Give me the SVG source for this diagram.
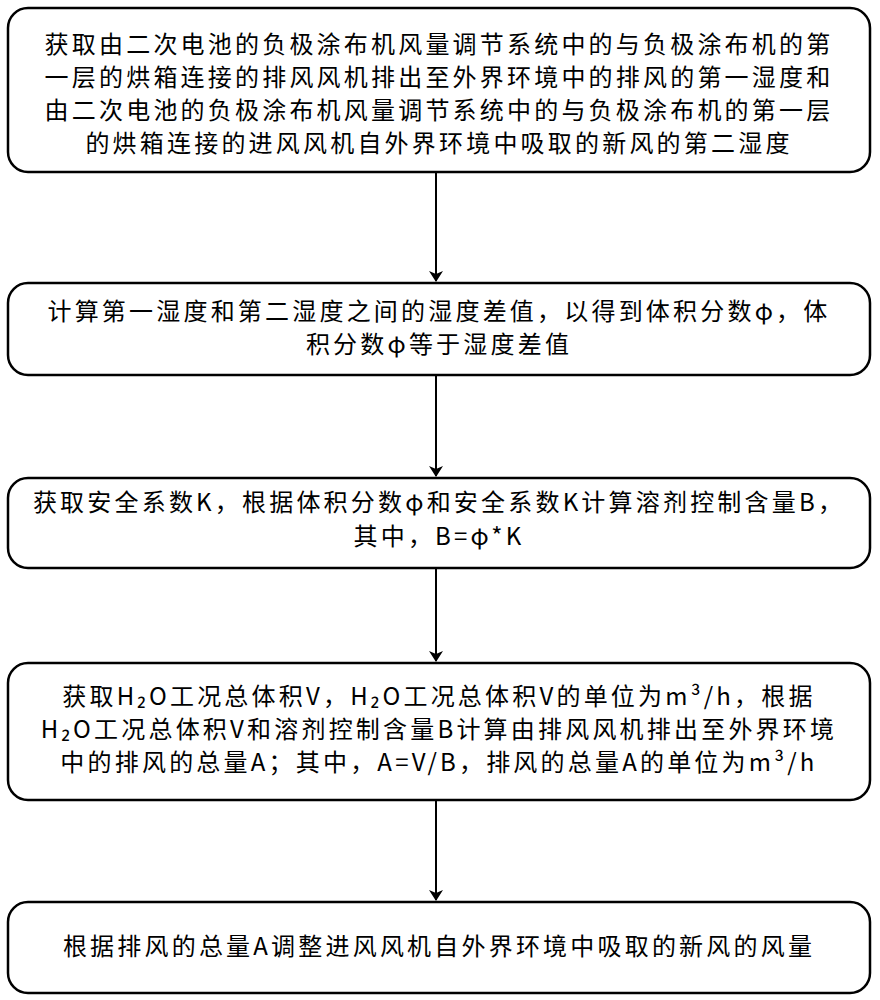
<svg xmlns="http://www.w3.org/2000/svg" width="880" height="1000" viewBox="0 0 880 1000">
<defs>
<style>
.b{fill:#fff;stroke:#000;stroke-width:2.5}
.t{font-family:"Noto Sans CJK SC","Noto Sans",sans-serif;font-size:24px;letter-spacing:3.2px;fill:#000;text-anchor:middle}
.c{stroke:#000;stroke-width:2;fill:none}
</style>
<marker id="a" markerWidth="12" markerHeight="14" refX="10" refY="7" orient="auto" markerUnits="userSpaceOnUse"><path d="M0,0 L11,7 L0,14 L3,7 Z" fill="#000"/></marker>
</defs>
<rect width="880" height="1000" fill="#fff"/>
<g id="n1"><rect class="b" x="8" y="8" width="862" height="164" rx="20"/>
<text class="t" x="439" y="53">获取由二次电池的负极涂布机风量调节系统中的与负极涂布机的第</text>
<text class="t" x="439" y="86">一层的烘箱连接的排风风机排出至外界环境中的排风的第一湿度和</text>
<text class="t" x="439" y="119">由二次电池的负极涂布机风量调节系统中的与负极涂布机的第一层</text>
<text class="t" x="439" y="152">的烘箱连接的进风风机自外界环境中吸取的新风的第二湿度</text></g>
<g id="n2"><rect class="b" x="8" y="283" width="862" height="92" rx="20"/>
<text class="t" x="439" y="320">计算第一湿度和第二湿度之间的湿度差值，以得到体积分数φ，体</text>
<text class="t" x="439" y="353">积分数φ等于湿度差值</text></g>
<g id="n3"><rect class="b" x="8" y="478" width="862" height="90" rx="20"/>
<text class="t" x="439" y="511">获取安全系数K，根据体积分数φ和安全系数K计算溶剂控制含量B，</text>
<text class="t" x="439" y="545">其中，B=φ*K</text></g>
<g id="n4"><rect class="b" x="8" y="663" width="862" height="137" rx="20"/>
<text class="t" x="439" y="705">获取H₂O工况总体积V，H₂O工况总体积V的单位为m³/h，根据</text>
<text class="t" x="439" y="738">H₂O工况总体积V和溶剂控制含量B计算由排风风机排出至外界环境</text>
<text class="t" x="439" y="771">中的排风的总量A；其中，A=V/B，排风的总量A的单位为m³/h</text></g>
<g id="n5"><rect class="b" x="8" y="902" width="862" height="91" rx="20"/>
<text class="t" x="439" y="955">根据排风的总量A调整进风风机自外界环境中吸取的新风的风量</text></g>
<g id="conn">
<line class="c" x1="436" y1="172" x2="436" y2="281" marker-end="url(#a)"/>
<line class="c" x1="436" y1="375" x2="436" y2="476" marker-end="url(#a)"/>
<line class="c" x1="436" y1="568" x2="436" y2="661" marker-end="url(#a)"/>
<line class="c" x1="436" y1="800" x2="436" y2="900" marker-end="url(#a)"/>
</g>
</svg>
